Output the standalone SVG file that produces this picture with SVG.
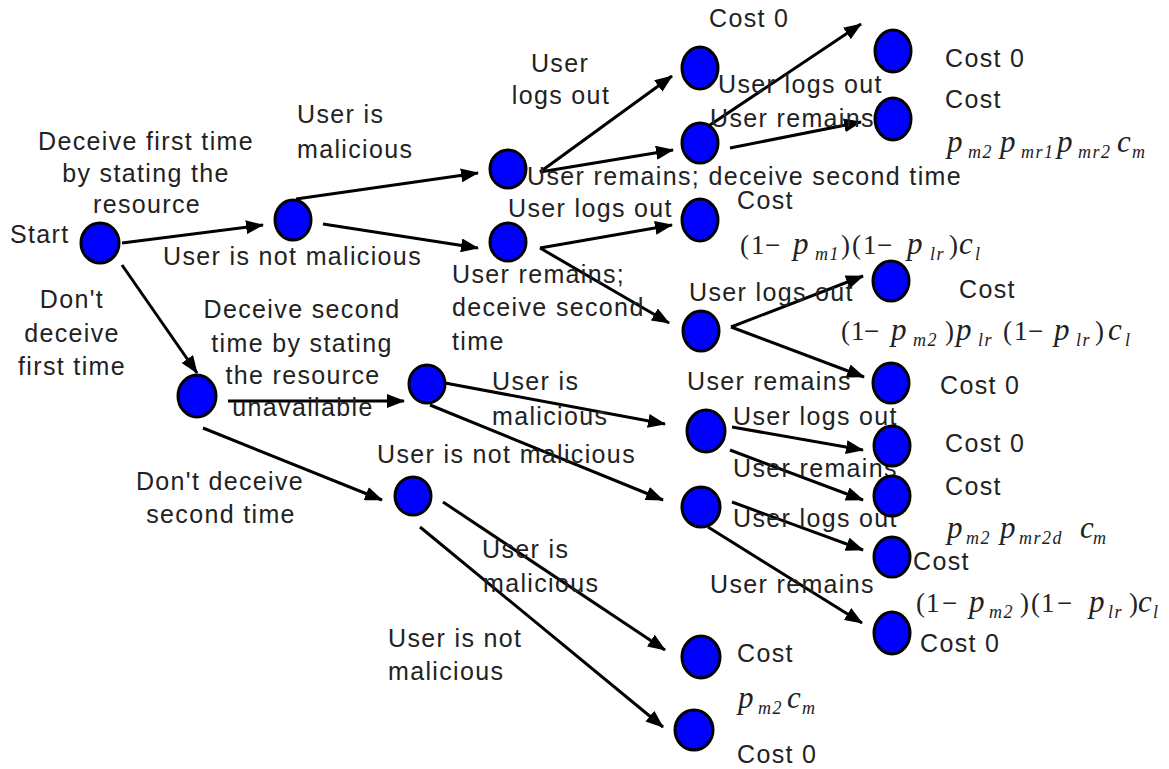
<svg xmlns="http://www.w3.org/2000/svg" width="1169" height="769" viewBox="0 0 1169 769">
<style>
.n{fill:#0000ff;stroke:#000;stroke-width:3}
.e{stroke:#000;stroke-width:3;fill:none;marker-end:url(#ah)}
.t{font-family:"Liberation Sans",Arial,sans-serif;font-size:25px;letter-spacing:1.35px;fill:#222}
.c{text-anchor:middle}
.m{font-family:"Liberation Serif","Times New Roman",serif;font-size:27px;fill:#222}
.i{font-style:italic;font-size:31px}
.s{font-style:italic;font-size:18px;letter-spacing:1.5px}
</style>
<defs>
<marker id="ah" markerUnits="userSpaceOnUse" markerWidth="18" markerHeight="14" refX="17" refY="7" orient="auto">
<path d="M0,0 L18,7 L0,14 z" fill="#000"/>
</marker>
</defs>
<rect width="1169" height="769" fill="#fff"/>
<g id="connectors">
<line class="e" x1="122" y1="243" x2="263" y2="225"/>
<line class="e" x1="296" y1="199" x2="478" y2="173"/>
<line class="e" x1="323" y1="224" x2="478" y2="248"/>
<line class="e" x1="540" y1="172" x2="672" y2="76"/>
<line class="e" x1="540" y1="172" x2="673" y2="150"/>
<line class="e" x1="707" y1="127" x2="861" y2="24"/>
<line class="e" x1="730" y1="148" x2="861" y2="122"/>
<line class="e" x1="540" y1="248" x2="672" y2="225"/>
<line class="e" x1="540" y1="248" x2="669" y2="323"/>
<line class="e" x1="731" y1="327" x2="863" y2="276"/>
<line class="e" x1="731" y1="327" x2="864" y2="377"/>
<line class="e" x1="122" y1="265" x2="197" y2="373"/>
<line class="e" x1="228" y1="401" x2="404" y2="401"/>
<line class="e" x1="203" y1="428" x2="382" y2="500"/>
<line class="e" x1="445" y1="383" x2="665" y2="424"/>
<line class="e" x1="430" y1="405" x2="663" y2="500"/>
<line class="e" x1="732" y1="427" x2="863" y2="450"/>
<line class="e" x1="730" y1="450" x2="863" y2="500"/>
<line class="e" x1="732" y1="502" x2="863" y2="550"/>
<line class="e" x1="708" y1="527" x2="862" y2="623"/>
<line class="e" x1="443" y1="502" x2="665" y2="650"/>
<line class="e" x1="420" y1="527" x2="663" y2="727"/>
</g>
<g id="edge-labels" class="t">
<text x="146" y="150" class="c">Deceive first time</text>
<text x="146" y="182" class="c">by stating the</text>
<text x="147" y="213" class="c">resource</text>
<text x="297" y="123">User is</text>
<text x="297" y="158">malicious</text>
<text x="163" y="265">User is not malicious</text>
<text x="72" y="308" class="c">Don't</text>
<text x="72" y="342" class="c">deceive</text>
<text x="72" y="375" class="c">first time</text>
<text x="302" y="318" class="c">Deceive second</text>
<text x="302" y="352" class="c">time by stating</text>
<text x="303" y="384" class="c">the resource</text>
<text x="303" y="416" class="c">unavailable</text>
<text x="220" y="490" class="c">Don't deceive</text>
<text x="221" y="523" class="c">second time</text>
<text x="560" y="72" class="c">User</text>
<text x="561" y="104" class="c">logs out</text>
<text x="718" y="93">User logs out</text>
<text x="710" y="127">User remains</text>
<text x="527" y="185">User remains; deceive second time</text>
<text x="508" y="217">User logs out</text>
<text x="452" y="283">User remains;</text>
<text x="452" y="316">deceive second</text>
<text x="452" y="350">time</text>
<text x="689" y="301">User logs out</text>
<text x="687" y="390">User remains</text>
<text x="492" y="390">User is</text>
<text x="492" y="425">malicious</text>
<text x="377" y="463">User is not malicious</text>
<text x="733" y="425">User logs out</text>
<text x="733" y="477">User remains</text>
<text x="733" y="527">User logs out</text>
<text x="710" y="593">User remains</text>
<text x="482" y="558">User is</text>
<text x="483" y="592">malicious</text>
<text x="388" y="647">User is not</text>
<text x="388" y="680">malicious</text>
</g>
<g id="start"><ellipse class="n" cx="100" cy="243" rx="19" ry="20"/><text class="t" x="10" y="243">Start</text></g>
<g id="n-deceive1"><ellipse class="n" cx="293" cy="220" rx="18" ry="20"/></g>
<g id="n-malicious1"><ellipse class="n" cx="508" cy="169" rx="18" ry="19"/></g>
<g id="n-notmalicious1"><ellipse class="n" cx="508" cy="242" rx="18" ry="19"/></g>
<g id="leaf-logout1"><ellipse class="n" cx="700" cy="68" rx="18" ry="21"/><text class="t" x="709" y="27">Cost 0</text></g>
<g id="n-remain1"><ellipse class="n" cx="700" cy="143" rx="18" ry="20"/></g>
<g id="leaf-logout2"><ellipse class="n" cx="700" cy="220" rx="18" ry="21"/><text class="t" x="737" y="209">Cost</text>
<text class="m" y="254"><tspan x="740">(</tspan><tspan x="751">1</tspan><tspan x="765">−</tspan><tspan x="793" class="i">p</tspan><tspan x="815" y="260" class="s">m1</tspan><tspan x="841" y="254">)</tspan><tspan x="852">(</tspan><tspan x="863">1</tspan><tspan x="877">−</tspan><tspan x="907" class="i">p</tspan><tspan x="930" y="260" class="s">lr</tspan><tspan x="949" y="254">)</tspan><tspan x="959" class="i">c</tspan><tspan x="975" y="260" class="s">l</tspan></text></g>
<g id="n-remain2"><ellipse class="n" cx="701" cy="331" rx="18" ry="20"/></g>
<g id="leaf-logout3"><ellipse class="n" cx="893" cy="51" rx="18" ry="21"/><text class="t" x="945" y="67">Cost 0</text></g>
<g id="leaf-remain3"><ellipse class="n" cx="893" cy="119" rx="18" ry="21"/><text class="t" x="945" y="108">Cost</text>
<text class="m" y="152"><tspan x="947" class="i">p</tspan><tspan x="968" y="158" class="s">m2</tspan><tspan x="1000" y="152" class="i">p</tspan><tspan x="1021" y="158" class="s">mr1</tspan><tspan x="1057" y="152" class="i">p</tspan><tspan x="1078" y="158" class="s">mr2</tspan><tspan x="1117" y="152" class="i">c</tspan><tspan x="1132" y="158" class="s">m</tspan></text></g>
<g id="leaf-logout4"><ellipse class="n" cx="891" cy="281" rx="18" ry="20"/><text class="t" x="959" y="298">Cost</text>
<text class="m" y="340"><tspan x="841">(</tspan><tspan x="851">1</tspan><tspan x="864">−</tspan><tspan x="891" class="i">p</tspan><tspan x="913" y="346" class="s">m2</tspan><tspan x="945" y="340">)</tspan><tspan x="956" class="i">p</tspan><tspan x="978" y="346" class="s">lr</tspan><tspan x="1003" y="340">(</tspan><tspan x="1014">1</tspan><tspan x="1028">−</tspan><tspan x="1054" class="i">p</tspan><tspan x="1076" y="346" class="s">lr</tspan><tspan x="1095" y="340">)</tspan><tspan x="1108" class="i">c</tspan><tspan x="1125" y="346" class="s">l</tspan></text></g>
<g id="leaf-remain4"><ellipse class="n" cx="891" cy="383" rx="18" ry="20"/><text class="t" x="940" y="394">Cost 0</text></g>
<g id="n-nodeceive1"><ellipse class="n" cx="197" cy="396" rx="19" ry="21"/></g>
<g id="n-deceive2"><ellipse class="n" cx="427" cy="384" rx="18" ry="19"/></g>
<g id="n-nodeceive2"><ellipse class="n" cx="413" cy="496" rx="18" ry="19"/></g>
<g id="n-malicious2"><ellipse class="n" cx="706" cy="431" rx="19" ry="21"/></g>
<g id="n-notmalicious2"><ellipse class="n" cx="701" cy="507" rx="19" ry="20"/></g>
<g id="leaf-logout5"><ellipse class="n" cx="892" cy="446" rx="18" ry="20"/><text class="t" x="945" y="452">Cost 0</text></g>
<g id="leaf-remain5"><ellipse class="n" cx="892" cy="496" rx="18" ry="20"/><text class="t" x="945" y="495">Cost</text>
<text class="m" y="538"><tspan x="947" class="i">p</tspan><tspan x="966" y="544" class="s">m2</tspan><tspan x="1000" y="538" class="i">p</tspan><tspan x="1019" y="544" class="s">mr2d</tspan><tspan x="1080" y="538" class="i">c</tspan><tspan x="1093" y="544" class="s">m</tspan></text></g>
<g id="leaf-logout6"><ellipse class="n" cx="892" cy="557" rx="18" ry="20"/><text class="t" x="913" y="570">Cost</text>
<text class="m" y="612"><tspan x="916">(</tspan><tspan x="926">1</tspan><tspan x="942">−</tspan><tspan x="969" class="i">p</tspan><tspan x="989" y="618" class="s">m2</tspan><tspan x="1020" y="612">)</tspan><tspan x="1031">(</tspan><tspan x="1041">1</tspan><tspan x="1057">−</tspan><tspan x="1089" class="i">p</tspan><tspan x="1108" y="618" class="s">lr</tspan><tspan x="1129" y="612">)</tspan><tspan x="1138" class="i">c</tspan><tspan x="1153" y="618" class="s">l</tspan></text></g>
<g id="leaf-remain6"><ellipse class="n" cx="892" cy="633" rx="18" ry="21"/><text class="t" x="920" y="652">Cost 0</text></g>
<g id="leaf-malicious3"><ellipse class="n" cx="701" cy="657" rx="19" ry="21"/><text class="t" x="737" y="662">Cost</text>
<text class="m" y="708"><tspan x="738" class="i">p</tspan><tspan x="758" y="714" class="s">m2</tspan><tspan x="787" y="708" class="i">c</tspan><tspan x="802" y="714" class="s">m</tspan></text></g>
<g id="leaf-notmalicious3"><ellipse class="n" cx="694" cy="730" rx="19" ry="20"/><text class="t" x="737" y="763">Cost 0</text></g>
</svg>
